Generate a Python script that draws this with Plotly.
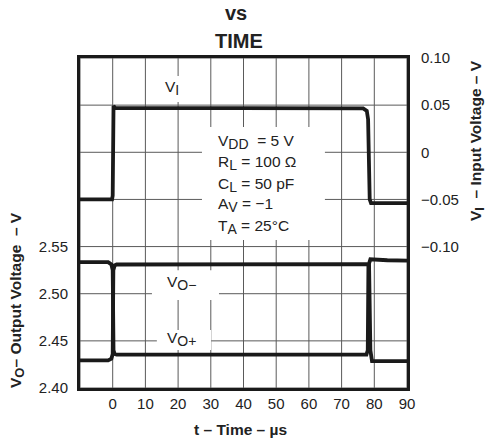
import plotly.graph_objects as go

# ---------------- data ----------------
t_vi = [-10, -0.2, 0.0, 0.1, 0.25, 0.8, 40, 76.6, 77.7, 78.1, 78.6, 79.0, 90]
vi = [-0.050, -0.050, -0.046, 0.045, 0.049, 0.047, 0.0468, 0.0465, 0.044, 0.035, -0.050, -0.054, -0.054]

t_vo_a = [-10, -1.4, -0.4, 0.0, 0.25, 0.6, 1.2, 77.6, 78.0, 78.2, 78.8, 80, 84, 90]
vo_a = [2.5335, 2.5335, 2.531, 2.525, 2.440, 2.436, 2.4354, 2.4354, 2.440, 2.530, 2.5365, 2.5365, 2.5355, 2.535]

t_vo_b = [-10, -1.4, -0.4, 0.0, 0.2, 0.6, 1.2, 77.7, 78.4, 78.8, 79.3, 90]
vo_b = [2.4293, 2.4293, 2.431, 2.436, 2.525, 2.530, 2.531, 2.5313, 2.530, 2.440, 2.4286, 2.4286]

x_ticks = [-10, 0, 10, 20, 30, 40, 50, 60, 70, 80, 90]
x_ticklabels = ["", "0", "10", "20", "30", "40", "50", "60", "70", "80", "90"]
vo_ticks = [2.40, 2.45, 2.50, 2.55, 2.60, 2.65, 2.70, 2.75]
vo_ticklabels = ["2.40", "2.45", "2.50", "2.55", "", "", "", ""]
vi_ticks = [-0.25, -0.20, -0.15, -0.10, -0.05, 0.0, 0.05, 0.10]
vi_ticklabels = ["", "", "", "\u22120.10", "\u22120.05", "0", "0.05", "0.10"]


def sub(s, size=14):
    return "<sub><span style='font-size:%spx'>%s</span></sub>" % (size, s)


conditions = [
    "V" + sub("DD") + "  = 5 V",
    "R" + sub("L") + " = 100 \u03a9",
    "C" + sub("L") + " = 50 pF",
    "A" + sub("V") + " = \u22121",
    "T" + sub("A") + " = 25\u00b0C",
]
cond_y = [0.0112, -0.0113, -0.0347, -0.0559, -0.0789]

FONT = "Liberation Sans, Arial, sans-serif"
LW = 3.8
GRID = "#5a5a5a"
TXT = "#222"
TICK = 15
LAB = 15.5

fig = go.Figure()
fig.add_trace(go.Scatter(x=t_vo_a, y=vo_a, mode="lines",
                         line=dict(color="#1a1a1a", width=LW), yaxis="y", showlegend=False))
fig.add_trace(go.Scatter(x=t_vo_b, y=vo_b, mode="lines",
                         line=dict(color="#1a1a1a", width=LW), yaxis="y", showlegend=False))
fig.add_trace(go.Scatter(x=t_vi, y=vi, mode="lines",
                         line=dict(color="#1a1a1a", width=LW), yaxis="y2", showlegend=False))

shapes = []
for xv in x_ticks:
    shapes.append(dict(type="line", xref="x", yref="paper", x0=xv, x1=xv, y0=0, y1=1,
                       line=dict(color=GRID, width=1), layer="below"))
for yv in vo_ticks:
    shapes.append(dict(type="line", xref="paper", yref="y", x0=0, x1=1, y0=yv, y1=yv,
                       line=dict(color=GRID, width=1), layer="below"))

boxes = [
    dict(x0=12.0, x1=32.5, y0=2.4933, y1=2.525, yref="y"),
    dict(x0=13.5, x1=30.1, y0=2.4403, y1=2.4615, yref="y"),
    dict(x0=14.5, x1=21.2, y0=0.0533, y1=0.0809, yref="y2"),
    dict(x0=27.3, x1=64.9, y0=-0.093, y1=0.0268, yref="y2"),
]
for b in boxes:
    shapes.append(dict(type="rect", xref="x", yref=b["yref"], x0=b["x0"], x1=b["x1"],
                       y0=b["y0"], y1=b["y1"], fillcolor="white", line=dict(width=0),
                       layer="below"))

annotations = []
annotations.append(dict(x=18.0, y=0.068, xref="x", yref="y2", text="V" + sub("I"),
                        showarrow=False, font=dict(family=FONT, size=LAB, color=TXT)))
annotations.append(dict(x=21.0, y=2.511, xref="x", yref="y", text="V" + sub("O\u2212"),
                        showarrow=False, font=dict(family=FONT, size=LAB, color=TXT)))
annotations.append(dict(x=21.0, y=2.452, xref="x", yref="y", text="V" + sub("O+"),
                        showarrow=False, font=dict(family=FONT, size=LAB, color=TXT)))
for txt, yy in zip(conditions, cond_y):
    annotations.append(dict(x=31.6, y=yy, xref="x", yref="y2", text=txt, xanchor="left",
                            showarrow=False, font=dict(family=FONT, size=LAB, color=TXT)))

px_annos = [
    dict(px=236, py=13, text="<b>vs</b>", size=20, angle=0),
    dict(px=239, py=41, text="<b>TIME</b>", size=20, angle=0),
    dict(px=240.5, py=429, text="<b>t \u2013 Time \u2013 \u00b5s</b>", size=15.5, angle=0),
    dict(px=17, py=300, text="<b>V" + sub("O", 13) + "\u2013 Output Voltage  \u2013 V</b>", size=15.5, angle=-90),
    dict(px=477, py=141, text="<b>V" + sub("I", 13) + "  \u2013 Input Voltage \u2013 V</b>", size=15.5, angle=-90),
]

L, R, T, B = 80, 81, 58, 55
W, H = 488, 443
pw, ph = W - L - R, H - T - B
for p in px_annos:
    annotations.append(dict(x=(p["px"] - L) / pw, y=(H - p["py"] - B) / ph,
                            xref="paper", yref="paper", text=p["text"], textangle=p["angle"],
                            showarrow=False, xanchor="center", yanchor="middle",
                            font=dict(family=FONT, size=p["size"], color=TXT)))

fig.update_layout(
    width=W, height=H,
    margin=dict(l=L, r=R, t=T, b=B, pad=0),
    paper_bgcolor="white", plot_bgcolor="white",
    font=dict(family=FONT, size=TICK, color=TXT),
    shapes=shapes, annotations=annotations,
    xaxis=dict(range=[-10, 90], tickvals=x_ticks, ticktext=x_ticklabels,
               showgrid=False, zeroline=False,
               showline=True, linecolor="#1a1a1a", linewidth=3, mirror=True,
               ticks="", 
               tickfont=dict(family=FONT, size=TICK, color=TXT)),
    yaxis=dict(range=[2.40, 2.75], tickvals=vo_ticks, ticktext=vo_ticklabels,
               showgrid=False, zeroline=False,
               showline=True, linecolor="#1a1a1a", linewidth=3, mirror=True,
               ticks="outside", ticklen=6, tickcolor="rgba(0,0,0,0)",
               tickfont=dict(family=FONT, size=TICK, color=TXT)),
    yaxis2=dict(range=[-0.25, 0.10], tickvals=vi_ticks, ticktext=vi_ticklabels,
                overlaying="y", side="right", showgrid=False, zeroline=False,
                showline=False, ticks="outside", ticklen=10, tickcolor="rgba(0,0,0,0)",
                tickfont=dict(family=FONT, size=TICK, color=TXT)),
)

fig.write_html("out.html", config={"displayModeBar": False},
               post_script="document.body.style.margin='0px';")
